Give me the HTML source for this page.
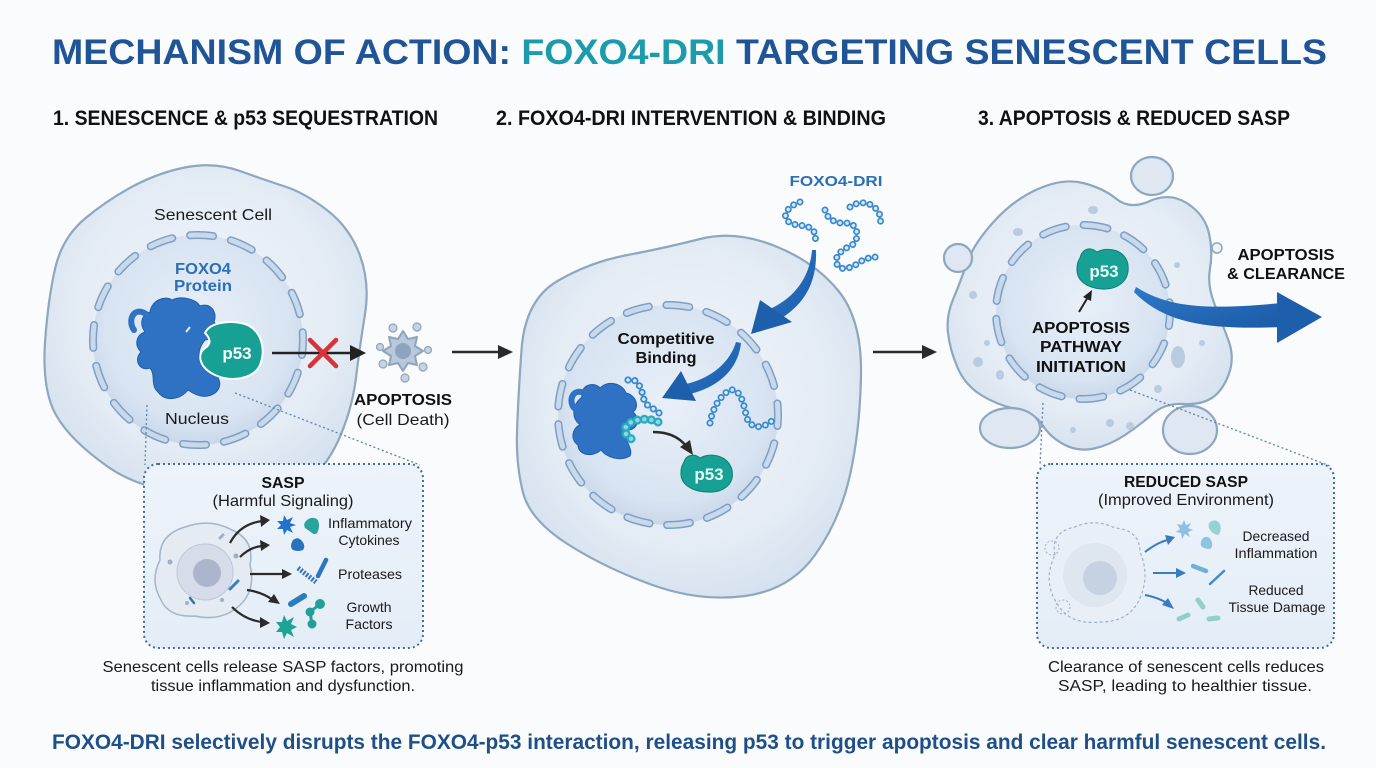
<!DOCTYPE html>
<html><head><meta charset="utf-8"><style>
html,body{margin:0;padding:0;background:#fafbfc;}
svg{display:block;}
text{font-family:"Liberation Sans",Arial,sans-serif;}
</style></head><body>
<svg width="1376" height="768" viewBox="0 0 1376 768" xmlns="http://www.w3.org/2000/svg">
<defs>
<radialGradient id="cellg" cx="50%" cy="45%" r="60%">
<stop offset="0" stop-color="#f2f6fb"/><stop offset="0.7" stop-color="#e3ebf4"/><stop offset="1" stop-color="#d3e0ee"/>
</radialGradient>
<radialGradient id="nucg" cx="50%" cy="45%" r="55%">
<stop offset="0" stop-color="#e8eff8"/><stop offset="0.8" stop-color="#d8e4f2"/><stop offset="1" stop-color="#c9d8ea"/>
</radialGradient>
<linearGradient id="boxg" x1="0" y1="0" x2="0" y2="1">
<stop offset="0" stop-color="#edf3fa"/><stop offset="1" stop-color="#e4edf7"/>
</linearGradient>
<linearGradient id="bluearr" x1="0" y1="0" x2="1" y2="1">
<stop offset="0" stop-color="#2d79c9"/><stop offset="1" stop-color="#1b5aa6"/>
</linearGradient>
</defs>
<rect width="1376" height="768" fill="#fafbfc"/>

<!-- Title -->
<text x="52" y="64" font-size="35" font-weight="bold" fill="#1f5596" textLength="1275" lengthAdjust="spacingAndGlyphs">MECHANISM OF ACTION: <tspan fill="#1b9bab">FOXO4-DRI</tspan> TARGETING SENESCENT CELLS</text>

<!-- Headings -->
<text x="53" y="125" font-size="21" font-weight="bold" fill="#111" textLength="385" lengthAdjust="spacingAndGlyphs">1. SENESCENCE &amp; p53 SEQUESTRATION</text>
<text x="496" y="125" font-size="21" font-weight="bold" fill="#111" textLength="390" lengthAdjust="spacingAndGlyphs">2. FOXO4-DRI INTERVENTION &amp; BINDING</text>
<text x="978" y="125" font-size="21" font-weight="bold" fill="#111" textLength="312" lengthAdjust="spacingAndGlyphs">3. APOPTOSIS &amp; REDUCED SASP</text>

<!-- ============ PANEL 1 ============ -->
<path d="M 45,342.5 Q 48,300 55,269 Q 62,238 84.5,219 Q 107,200 133.5,186 Q 160,172 187.5,167 Q 215,162 240,171 Q 265,180 285,186.5 Q 305,193 327.5,210.5 Q 350,228 360,255.5 Q 370,283 365,314 Q 360,345 356,377.5 Q 352,410 338.5,440 Q 325,470 302.5,485 Q 280,500 212.5,496.5 Q 145,493 107.5,466.5 Q 70,440 56,415 Q 42,390 45,342.5 Z" fill="url(#cellg)" stroke="#8ea6bf" stroke-width="2.2"/>
<!-- nucleus -->
<circle cx="198" cy="340" r="105" fill="url(#nucg)"/>
<circle cx="198" cy="340" r="105" fill="none" stroke="#7f9ec4" stroke-width="8" stroke-linecap="round" stroke-dasharray="23 18.23" stroke-dashoffset="8"/>
<circle cx="198" cy="340" r="105" fill="none" stroke="#c9d9ec" stroke-width="5" stroke-linecap="round" stroke-dasharray="23 18.23" stroke-dashoffset="8"/>
<text x="213" y="220" font-size="16" fill="#1a1a1a" text-anchor="middle" textLength="118" lengthAdjust="spacingAndGlyphs">Senescent Cell</text>
<text x="203" y="274" font-size="16" font-weight="bold" fill="#2a6fb8" text-anchor="middle" textLength="56" lengthAdjust="spacingAndGlyphs">FOXO4</text>
<text x="203" y="291" font-size="16" font-weight="bold" fill="#2a6fb8" text-anchor="middle" textLength="58" lengthAdjust="spacingAndGlyphs">Protein</text>
<!-- FOXO4 blob -->
<path d="M 150,312 C 152,300 165,295 172,300 C 180,296 195,298 200,306 C 210,302 218,312 214,322 C 222,330 212,340 205,340 C 198,348 196,360 205,368 C 218,372 225,385 215,393 C 205,400 195,395 188,390 C 180,400 165,402 158,392 C 150,385 156,375 150,368 C 140,372 133,360 141,352 C 134,345 136,335 145,332 C 140,325 140,316 150,312 Z" fill="#2f72c4" stroke="#1f5ea8" stroke-width="1"/>
<path d="M 146,314 C 134,306 127,320 134,330" fill="none" stroke="#2f72c4" stroke-width="6" stroke-linecap="round"/>
<path d="M 186,332 l 4,-5" stroke="#e8f0fa" stroke-width="2"/>
<!-- p53 -->
<path d="M 205,333 C 210,322 230,320 245,324 C 262,330 266,350 260,365 C 253,380 230,382 215,375 C 200,368 196,355 205,348 C 212,344 210,338 205,333 Z" fill="#17a094" stroke="#ffffff" stroke-width="2"/>
<text x="237" y="359" font-size="17" font-weight="bold" fill="#ffffff" text-anchor="middle">p53</text>
<text x="197" y="424" font-size="16" fill="#1a1a1a" text-anchor="middle" textLength="64" lengthAdjust="spacingAndGlyphs">Nucleus</text>
<!-- arrow with X -->
<line x1="272" y1="353" x2="352" y2="353" stroke="#222" stroke-width="2.5"/>
<polygon points="366,353 350,345 350,361" fill="#222"/>
<line x1="310" y1="340" x2="336" y2="366" stroke="#d8333b" stroke-width="4.5" stroke-linecap="round"/>
<line x1="336" y1="340" x2="310" y2="366" stroke="#d8333b" stroke-width="4.5" stroke-linecap="round"/>
<!-- apoptotic icon -->
<polygon points="423,351 415,356 417,365 408,363 403,371 398,363 389,365 391,356 383,351 391,346 389,337 398,339 403,331 408,339 417,337 415,346" fill="#b9c9db" stroke="#8ea3bd" stroke-width="2" stroke-linejoin="round"/>
<circle cx="403" cy="351" r="8" fill="#8ea3bd"/>
<g fill="#c6d3e2" stroke="#8ea3bd" stroke-width="1.2">
<circle cx="393" cy="328" r="4"/><circle cx="417" cy="327" r="4"/><circle cx="380" cy="347" r="3.5"/><circle cx="428" cy="350" r="3.5"/><circle cx="383" cy="364" r="4"/><circle cx="423" cy="367" r="4"/><circle cx="405" cy="378" r="4"/>
</g>
<text x="403" y="405" font-size="16" font-weight="bold" fill="#111" text-anchor="middle" textLength="98" lengthAdjust="spacingAndGlyphs">APOPTOSIS</text>
<text x="403" y="425" font-size="16" fill="#1a1a1a" text-anchor="middle" textLength="93" lengthAdjust="spacingAndGlyphs">(Cell Death)</text>

<!-- dotted zoom lines -->
<line x1="147" y1="405" x2="145" y2="465" stroke="#5a82ad" stroke-width="1.3" stroke-dasharray="2 2.5"/>
<line x1="235" y1="393" x2="420" y2="465" stroke="#5a82ad" stroke-width="1.3" stroke-dasharray="2 2.5"/>

<!-- SASP box -->
<rect x="144" y="464" width="279" height="184" rx="14" fill="url(#boxg)" stroke="#3f6e9e" stroke-width="2" stroke-dasharray="2 3"/>
<text x="283" y="488" font-size="16" font-weight="bold" fill="#111" text-anchor="middle" textLength="43" lengthAdjust="spacingAndGlyphs">SASP</text>
<text x="283" y="506" font-size="16" fill="#1a1a1a" text-anchor="middle" textLength="141" lengthAdjust="spacingAndGlyphs">(Harmful Signaling)</text>
<!-- small cell -->
<path d="M 160,560 Q 158,535 185,527 Q 210,518 232,530 Q 255,540 250,565 Q 256,590 240,605 Q 222,622 195,616 Q 168,618 160,598 Q 150,580 160,560 Z" fill="#e4ebf3" stroke="#a3b5c9" stroke-width="1.5"/>
<circle cx="205" cy="572" r="28" fill="#d6dcea" stroke="#bcc6d8" stroke-width="1"/>
<circle cx="207" cy="573" r="14" fill="#adb5cd"/>
<g fill="#9fb0c6"><circle cx="170" cy="562" r="2.5"/><circle cx="236" cy="556" r="2.5"/><circle cx="222" cy="600" r="2"/><circle cx="187" cy="603" r="2"/></g>
<path d="M 230,589 l 8,-8" stroke="#3a7cc0" stroke-width="3" stroke-linecap="round"/>
<path d="M 190,598 l 4,5" stroke="#3a6fb0" stroke-width="2.5" stroke-linecap="round"/>
<path d="M 220,538 l 3,-3" stroke="#9fb0c6" stroke-width="3" stroke-linecap="round"/>
<!-- arrows -->
<g fill="none" stroke="#2a2a2a" stroke-width="2.2">
<path d="M 230,543 Q 240,524 262,521"/>
<path d="M 240,557 Q 250,547 262,546"/>
<path d="M 250,574 L 284,574"/>
<path d="M 247,590 Q 262,592 273,600"/>
<path d="M 232,607 Q 245,620 262,622"/>
</g>
<g fill="#2a2a2a">
<polygon points="270,520 260,515 261,527"/>
<polygon points="270,545 260,540 261,551"/>
<polygon points="292,574 282,569 282,579"/>
<polygon points="280,604 268,602 274,594"/>
<polygon points="270,623 260,617 260,628"/>
</g>
<!-- icons -->
<polygon points="296,525 290,527 293,533 287,530 284,535 283,529 277,529 281,525 277,521 283,521 284,515 287,520 293,517 290,523" fill="#2173c9"/>
<path d="M 306,521 Q 312,515 318,520 Q 320,526 318,531 Q 316,536 312,533 Q 308,530 305,528 Q 303,524 306,521 Z" fill="#2aa39b"/>
<path d="M 293,540 Q 298,536 302,541 Q 306,546 303,550 Q 298,552 293,550 Q 289,547 293,540 Z" fill="#2a72c0"/>
<path d="M 298,568 L 316,582" stroke="#2f74c0" stroke-width="5" stroke-dasharray="2 1.5"/>
<path d="M 318,576 L 326,560" stroke="#2f74c0" stroke-width="4.5" stroke-linecap="round"/>
<path d="M 291,604 L 304,596" stroke="#2a7cc0" stroke-width="6" stroke-linecap="round"/>
<g fill="#229f98" stroke="#229f98" stroke-width="3"><line x1="310" y1="612" x2="320" y2="604"/><line x1="310" y1="612" x2="312" y2="624"/><circle cx="310" cy="612" r="3"/><circle cx="320" cy="604" r="3.5"/><circle cx="312" cy="624" r="3"/></g>
<polygon points="297,627 291,630 294,637 287,633 284,639 282,632 276,632 280,627 276,622 282,622 284,615 287,621 294,617 291,624" fill="#1fa397"/>
<g font-size="14" fill="#1a1a1a" text-anchor="middle">
<text x="370" y="528" textLength="84" lengthAdjust="spacingAndGlyphs">Inflammatory</text>
<text x="369" y="545" textLength="61" lengthAdjust="spacingAndGlyphs">Cytokines</text>
<text x="370" y="579" textLength="64" lengthAdjust="spacingAndGlyphs">Proteases</text>
<text x="369" y="612" textLength="45" lengthAdjust="spacingAndGlyphs">Growth</text>
<text x="369" y="629" textLength="47" lengthAdjust="spacingAndGlyphs">Factors</text>
</g>
<text x="283" y="672" font-size="16" fill="#1a1a1a" text-anchor="middle" textLength="361" lengthAdjust="spacingAndGlyphs">Senescent cells release SASP factors, promoting</text>
<text x="283" y="691" font-size="16" fill="#1a1a1a" text-anchor="middle" textLength="264" lengthAdjust="spacingAndGlyphs">tissue inflammation and dysfunction.</text>

<!-- between arrows -->
<line x1="452" y1="352" x2="500" y2="352" stroke="#2a2a2a" stroke-width="2.5"/>
<polygon points="513,352 498,345 498,359" fill="#2a2a2a"/>
<line x1="873" y1="352" x2="924" y2="352" stroke="#2a2a2a" stroke-width="2.5"/>
<polygon points="937,352 922,345 922,359" fill="#2a2a2a"/>

<!-- ============ PANEL 2 ============ -->
<path d="M 517,432.5 Q 518,400 521.5,350 Q 525,300 557.5,281 Q 590,262 627.5,255 Q 665,248 700,239 Q 735,230 775,246 Q 815,262 838.5,291 Q 862,320 861,375 Q 860,430 850,475 Q 840,520 815,555 Q 790,590 745,596 Q 700,602 652.5,585 Q 605,568 567.5,544 Q 530,520 523,492.5 Q 516,465 517,432.5 Z" fill="url(#cellg)" stroke="#8ea6bf" stroke-width="2.2"/>
<circle cx="668" cy="415" r="110" fill="url(#nucg)"/>
<circle cx="668" cy="415" r="110" fill="none" stroke="#7f9ec4" stroke-width="8" stroke-linecap="round" stroke-dasharray="23 17.66" stroke-dashoffset="12"/>
<circle cx="668" cy="415" r="110" fill="none" stroke="#c9d9ec" stroke-width="5" stroke-linecap="round" stroke-dasharray="23 17.66" stroke-dashoffset="12"/>
<text x="836" y="186" font-size="15" font-weight="bold" fill="#2a6fb8" text-anchor="middle" textLength="93" lengthAdjust="spacingAndGlyphs">FOXO4-DRI</text>
<!-- chains outside -->
<g fill="none" stroke-linecap="round">
<g stroke="#3a88cc" stroke-width="7" stroke-dasharray="0.01 7">
<path d="M 800,202 C 790,205 782,214 787,220 C 792,227 805,224 810,228 C 816,232 816,236 815,242"/>
<path d="M 825,210 C 828,222 840,224 848,223 C 858,224 860,240 852,245 C 842,250 834,255 837,264 C 840,272 852,268 860,262 C 866,258 872,257 877,257"/>
<path d="M 850,207 C 858,201 870,201 877,210 C 881,215 881,220 880,227"/>
<path d="M 628,380 C 638,377 642,390 644,400 C 648,410 660,408 661,418"/>
<path d="M 710,423 C 712,410 720,395 730,390 C 742,388 744,408 747,418 C 750,428 762,430 773,420"/>
</g>
<g stroke="#d3e9f8" stroke-width="3.6" stroke-dasharray="0.01 7">
<path d="M 800,202 C 790,205 782,214 787,220 C 792,227 805,224 810,228 C 816,232 816,236 815,242"/>
<path d="M 825,210 C 828,222 840,224 848,223 C 858,224 860,240 852,245 C 842,250 834,255 837,264 C 840,272 852,268 860,262 C 866,258 872,257 877,257"/>
<path d="M 850,207 C 858,201 870,201 877,210 C 881,215 881,220 880,227"/>
<path d="M 710,423 C 712,410 720,395 730,390 C 742,388 744,408 747,418 C 750,428 762,430 773,420"/>
</g>
</g>
<!-- FOXO4 blob panel 2 -->
<path d="M 582,397 C 580,385 594,381 600,388 C 608,380 622,383 626,393 C 636,395 640,407 633,412 C 642,420 636,430 628,430 C 622,440 634,448 630,456 C 620,462 606,457 601,450 C 592,458 578,455 578,445 C 570,440 572,428 580,425 C 571,418 572,405 582,397 Z" fill="#2f72c4" stroke="#1f5ea8" stroke-width="1"/>
<path d="M 584,393 C 573,388 568,400 574,408" fill="none" stroke="#2f72c4" stroke-width="6" stroke-linecap="round"/>
<g fill="none" stroke-linecap="round">
<path d="M 628,380 C 638,377 642,390 644,400 C 648,410 660,408 661,418" stroke="#3a88cc" stroke-width="7" stroke-dasharray="0.01 7"/>
<path d="M 628,380 C 638,377 642,390 644,400 C 648,410 660,408 661,418" stroke="#d3e9f8" stroke-width="3.6" stroke-dasharray="0.01 7"/>
<path d="M 658,422 C 650,418 635,418 627,425 C 622,432 628,440 637,440" stroke="#2aa9bf" stroke-width="9" stroke-dasharray="0.01 7"/>
<path d="M 658,422 C 650,418 635,418 627,425 C 622,432 628,440 637,440" stroke="#8fd6e3" stroke-width="4.5" stroke-dasharray="0.01 7"/>
</g>
<!-- blue arrows -->
<path d="M 812,250 C 810,274 798,296 770,309 L 780,319 C 808,302 817,278 816,250 Z" fill="url(#bluearr)"/>
<polygon points="751,334 760,300 792,322" fill="#1d5fab"/>
<path d="M 736,342 C 730,362 712,378 686,384 L 690,394 C 718,387 738,370 741,343 Z" fill="url(#bluearr)"/>
<polygon points="662,398 681,371 696,401" fill="#1d5fab"/>
<text x="666" y="344" font-size="16" font-weight="bold" fill="#111" text-anchor="middle" textLength="97" lengthAdjust="spacingAndGlyphs">Competitive</text>
<text x="666" y="363" font-size="16" font-weight="bold" fill="#111" text-anchor="middle" textLength="61" lengthAdjust="spacingAndGlyphs">Binding</text>
<!-- black arrow -->
<path d="M 653,432 Q 675,432 686,446" fill="none" stroke="#2a2a2a" stroke-width="2.5"/>
<polygon points="693,455 680,447 690,440" fill="#2a2a2a"/>
<!-- p53 panel 2 -->
<path d="M 684,462 C 686,455 694,453 700,458 C 710,452 728,455 732,470 C 735,485 722,493 708,492 C 692,492 680,484 681,472 C 681,468 682,465 684,462 Z" fill="#17a094" stroke="#0f7f75" stroke-width="1"/>
<text x="709" y="480" font-size="17" font-weight="bold" fill="#e8fbf8" text-anchor="middle">p53</text>

<!-- ============ PANEL 3 ============ -->
<path d="M 953,299.5 Q 960,283 966.5,264 Q 973,245 993,222.5 Q 1013,200 1038,189 Q 1063,178 1083,183 Q 1103,188 1116.5,199 Q 1130,210 1150,201 Q 1170,192 1187.5,203.5 Q 1205,215 1209,233.5 Q 1213,252 1210,268.5 Q 1207,285 1214.5,304 Q 1222,323 1228.5,340.5 Q 1235,358 1228.5,375 Q 1222,392 1211,398.5 Q 1200,405 1182.5,404 Q 1165,403 1152.5,414 Q 1140,425 1125,435 Q 1110,445 1094,448.5 Q 1078,452 1064,444.5 Q 1050,437 1042.5,425 Q 1035,413 1016,409 Q 997,405 981,395 Q 965,385 957.5,367.5 Q 950,350 948,333 Q 946,316 953,299.5 Z" fill="url(#cellg)" stroke="#8ea6bf" stroke-width="2.2"/>
<g fill="#dfe8f2" stroke="#8ea6bf" stroke-width="2.2">
<ellipse cx="1152" cy="176" rx="21" ry="19"/>
<circle cx="958" cy="258" r="14"/>
<ellipse cx="1010" cy="428" rx="30" ry="20"/>
<ellipse cx="1190" cy="430" rx="27" ry="24"/>
</g>
<circle cx="1217" cy="248" r="5" fill="#eef3f8" stroke="#8ea6bf" stroke-width="1.5"/>
<g fill="#b9cbe0">
<ellipse cx="1093" cy="210" rx="5" ry="4"/><ellipse cx="1018" cy="232" rx="5" ry="4"/><circle cx="973" cy="295" r="4"/>
<circle cx="987" cy="343" r="3"/><circle cx="978" cy="362" r="5"/><ellipse cx="1000" cy="375" rx="4" ry="5"/>
<circle cx="1177" cy="265" r="3"/><circle cx="1202" cy="343" r="3"/><ellipse cx="1178" cy="357" rx="7" ry="11"/>
<circle cx="1158" cy="389" r="4"/><circle cx="1073" cy="430" r="3"/><circle cx="1110" cy="423" r="4"/><circle cx="1130" cy="426" r="4"/>
</g>
<circle cx="1083" cy="312" r="87" fill="url(#nucg)"/>
<circle cx="1083" cy="312" r="87" fill="none" stroke="#7f9ec4" stroke-width="8" stroke-linecap="round" stroke-dasharray="24 18.05" stroke-dashoffset="10"/>
<circle cx="1083" cy="312" r="87" fill="none" stroke="#c9d9ec" stroke-width="5" stroke-linecap="round" stroke-dasharray="24 18.05" stroke-dashoffset="10"/>
<!-- p53 panel3 -->
<path d="M 1080,258 C 1082,249 1090,246 1097,252 C 1108,246 1126,250 1128,265 C 1130,282 1116,290 1102,289 C 1086,288 1076,280 1077,268 C 1077,264 1078,261 1080,258 Z" fill="#17a094" stroke="#0f7f75" stroke-width="1"/>
<text x="1104" y="277" font-size="17" font-weight="bold" fill="#e8fbf8" text-anchor="middle">p53</text>
<line x1="1079" y1="312" x2="1088" y2="297" stroke="#222" stroke-width="2"/>
<polygon points="1092,290 1083,297 1091,301" fill="#222"/>
<g font-size="16" font-weight="bold" fill="#111" text-anchor="middle">
<text x="1081" y="333" textLength="98" lengthAdjust="spacingAndGlyphs">APOPTOSIS</text>
<text x="1081" y="352" textLength="82" lengthAdjust="spacingAndGlyphs">PATHWAY</text>
<text x="1081" y="372" textLength="90" lengthAdjust="spacingAndGlyphs">INITIATION</text>
<text x="1286" y="260" textLength="97" lengthAdjust="spacingAndGlyphs">APOPTOSIS</text>
<text x="1286" y="279" textLength="118" lengthAdjust="spacingAndGlyphs">&amp; CLEARANCE</text>
</g>
<!-- big arrow -->
<path d="M 1136,287 C 1172,310 1215,309 1282,303 L 1282,327 C 1210,330 1165,324 1134,292 Z" fill="url(#bluearr)"/>
<polygon points="1322,317 1277,292 1277,343" fill="#1d5fab"/>

<!-- dotted lines -->
<line x1="1043" y1="403" x2="1040" y2="465" stroke="#5a82ad" stroke-width="1.3" stroke-dasharray="2 2.5"/>
<line x1="1130" y1="390" x2="1330" y2="466" stroke="#5a82ad" stroke-width="1.3" stroke-dasharray="2 2.5"/>

<!-- Reduced SASP box -->
<rect x="1037" y="464" width="297" height="184" rx="14" fill="url(#boxg)" stroke="#3f6e9e" stroke-width="2" stroke-dasharray="2 3"/>
<text x="1186" y="487" font-size="16" font-weight="bold" fill="#111" text-anchor="middle" textLength="124" lengthAdjust="spacingAndGlyphs">REDUCED SASP</text>
<text x="1186" y="505" font-size="16" fill="#1a1a1a" text-anchor="middle" textLength="176" lengthAdjust="spacingAndGlyphs">(Improved Environment)</text>
<!-- faded cell -->
<path d="M 1055,555 Q 1050,532 1075,527 Q 1095,518 1115,528 Q 1140,530 1140,552 Q 1150,575 1140,598 Q 1130,622 1100,622 Q 1070,625 1058,605 Q 1042,582 1055,555 Z" fill="#e9eff6" stroke="#9fb0c4" stroke-width="1.2" stroke-dasharray="3 2.5"/>
<circle cx="1052" cy="548" r="7" fill="none" stroke="#9fb0c4" stroke-width="1" stroke-dasharray="2 2"/>
<circle cx="1063" cy="607" r="7" fill="none" stroke="#9fb0c4" stroke-width="1" stroke-dasharray="2 2"/>
<circle cx="1095" cy="575" r="32" fill="#dee6f0"/>
<circle cx="1100" cy="578" r="17" fill="#c6d2e2"/>
<g fill="none" stroke="#3a7cc0" stroke-width="2">
<path d="M 1145,552 Q 1158,542 1168,540"/>
<path d="M 1153,573 L 1178,573"/>
<path d="M 1145,595 Q 1160,598 1168,604"/>
</g>
<g fill="#3a7cc0">
<polygon points="1175,537 1165,535 1168,545"/>
<polygon points="1186,573 1176,568 1176,578"/>
<polygon points="1174,609 1162,605 1168,598"/>
</g>
<polygon points="1193,530 1188,532 1190,537 1185,534 1182,539 1181,533 1176,532 1180,529 1177,524 1182,525 1184,520 1186,525 1191,523 1188,528" fill="#8fc0e2"/>
<path d="M 1210,522 Q 1216,518 1220,524 Q 1222,532 1218,535 Q 1213,534 1210,530 Q 1207,526 1210,522 Z" fill="#94d3cf"/>
<path d="M 1203,538 Q 1208,535 1211,540 Q 1214,546 1210,549 Q 1204,549 1201,546 Q 1200,541 1203,538 Z" fill="#8fc3e3"/>
<g stroke-linecap="round">
<line x1="1193" y1="566" x2="1206" y2="571" stroke="#6fb1da" stroke-width="4.5"/>
<line x1="1210" y1="584" x2="1224" y2="571" stroke="#3f8ccc" stroke-width="2.5"/>
<line x1="1198" y1="600" x2="1203" y2="607" stroke="#8fd0cb" stroke-width="5"/>
<line x1="1179" y1="619" x2="1188" y2="615" stroke="#8fd0cb" stroke-width="5"/>
<line x1="1209" y1="619" x2="1218" y2="618" stroke="#8fd0cb" stroke-width="5"/>
</g>
<g font-size="14" fill="#1a1a1a" text-anchor="middle">
<text x="1276" y="541" textLength="67" lengthAdjust="spacingAndGlyphs">Decreased</text>
<text x="1276" y="558" textLength="83" lengthAdjust="spacingAndGlyphs">Inflammation</text>
<text x="1276" y="595" textLength="55" lengthAdjust="spacingAndGlyphs">Reduced</text>
<text x="1277" y="612" textLength="97" lengthAdjust="spacingAndGlyphs">Tissue Damage</text>
</g>
<text x="1186" y="672" font-size="16" fill="#1a1a1a" text-anchor="middle" textLength="276" lengthAdjust="spacingAndGlyphs">Clearance of senescent cells reduces</text>
<text x="1185" y="691" font-size="16" fill="#1a1a1a" text-anchor="middle" textLength="254" lengthAdjust="spacingAndGlyphs">SASP, leading to healthier tissue.</text>

<!-- Bottom line -->
<text x="52" y="749" font-size="21" font-weight="bold" fill="#1f4f88" textLength="1274" lengthAdjust="spacingAndGlyphs">FOXO4-DRI selectively disrupts the FOXO4-p53 interaction, releasing p53 to trigger apoptosis and clear harmful senescent cells.</text>
</svg>
</body></html>
